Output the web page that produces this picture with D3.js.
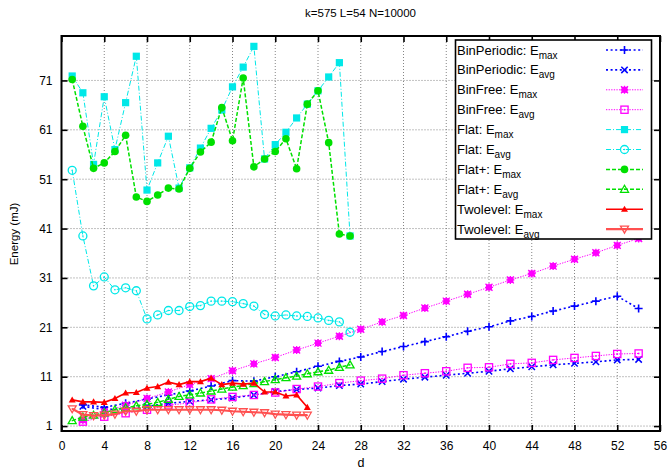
<!DOCTYPE html>
<html><head><meta charset="utf-8">
<script src="https://cdn.jsdelivr.net/npm/d3@7"></script>
<style>body{margin:0;background:#fff}svg{display:block}text{font-family:"Liberation Sans",Arial,sans-serif}</style>
</head><body><svg id="c" width="668" height="471"></svg>
<script>
const dBin = [2,4,6,8,10,12,14,16,18,20,22,24,26,28,30,32,34,36,38,40,42,44,46,48,50,52,54];
const dFlat = [1,2,3,4,5,6,7,8,9,10,11,12,13,14,15,16,17,18,19,20,21,22,23,24,25,26,27];
const dTwo = [1,2,3,4,5,6,7,8,9,10,11,12,13,14,15,16,17,18,19,20,21,22,23];
const binPeriodicMax = [5.3,4.8,5.6,6.5,7.3,8.1,9.1,10.2,10.1,11.0,12.0,13.1,14.1,15.0,16.1,17.1,18.1,19.1,20.2,21.1,22.3,23.2,24.3,25.3,26.3,27.3,24.8];
const binPeriodicAvg = [5.0,4.3,4.6,5.0,5.6,6.0,6.3,6.7,7.3,8.0,8.4,8.7,9.2,9.5,10.0,10.5,10.9,11.3,11.7,12.1,12.6,13.0,13.4,13.7,14.0,14.4,14.5];
const binFreeMax = [2.2,3.9,5.2,6.6,7.9,9.4,10.6,12.2,13.6,14.9,16.4,17.8,19.2,20.6,22.1,23.4,24.9,26.3,27.7,29.1,30.6,31.9,33.4,34.8,36.1,37.6,39.0];
const binFreeAvg = [1.9,2.9,3.6,4.3,5.2,5.7,6.4,6.9,7.3,7.8,8.5,9.0,9.7,10.2,10.6,11.3,11.7,12.1,12.8,12.9,13.6,13.8,14.4,14.8,15.2,15.6,15.7];
const flatMax = [71.9,68.5,54.0,67.7,57.0,66.5,75.9,48.8,54.3,59.7,49.2,53.3,57.3,61.3,65.0,69.7,73.7,77.9,55.1,58.0,60.5,63.4,66.2,68.9,71.7,74.6,39.5];
const flatAvg = [52.8,39.5,29.4,31.2,28.6,29.0,28.4,22.7,23.5,24.4,24.4,25.2,25.4,26.3,26.3,26.2,25.8,25.3,23.6,23.3,23.5,23.3,23.2,22.9,22.4,22.1,20.0];
const flatPlusMax = [71.2,61.7,53.2,54.3,56.6,59.9,47.4,46.5,47.8,49.2,49.0,53.2,56.5,58.5,65.5,58.8,71.5,53.5,55.1,56.6,59.2,53.1,66.2,68.9,58.4,39.9,39.5];
const flatPlusAvg = [2.1,2.8,3.2,3.7,4.3,4.7,5.1,5.4,5.8,6.4,7.0,7.3,7.7,8.1,8.5,8.9,9.2,9.6,10.0,10.4,10.8,11.1,11.6,12.0,12.3,12.9,13.4];
const twoMax = [6.3,5.9,5.9,5.8,6.6,7.7,7.8,8.7,9.0,9.9,9.4,10.0,10.0,10.7,9.4,9.7,9.5,9.7,7.9,7.9,7.1,7.3,4.8];
const twoAvg = [4.5,3.3,3.1,3.2,3.4,4.0,4.0,4.3,4.3,4.3,4.3,4.3,4.3,4.3,4.2,4.0,3.9,3.8,3.7,3.4,3.3,3.2,3.2];
const xTicks = [0,4,8,12,16,20,24,28,32,36,40,44,48,52,56];
const yTicks = [1,11,21,31,41,51,61,71];
const title = "k=575 L=54  N=10000";
const xLabel = "d";
const yLabel = "Energy (mJ)";

const series = [
  {name:"BinPeriodic: E", sub:"max", xs:dBin, ys:binPeriodicMax, color:"#0000ff", dash:"2,2.6", w:1.6, mk:"plus"},
  {name:"BinPeriodic: E", sub:"avg", xs:dBin, ys:binPeriodicAvg, color:"#0000ff", dash:"2,2.6", w:1.6, mk:"cross"},
  {name:"BinFree: E", sub:"max", xs:dBin, ys:binFreeMax, color:"#ff00ff", dash:"1.3,1.3", w:1, mk:"star"},
  {name:"BinFree: E", sub:"avg", xs:dBin, ys:binFreeAvg, color:"#ff00ff", dash:"1.3,1.3", w:1, mk:"osq"},
  {name:"Flat: E", sub:"max", xs:dFlat, ys:flatMax, color:"#00e8e8", dash:"5,2,1,2", w:1, mk:"fsq"},
  {name:"Flat: E", sub:"avg", xs:dFlat, ys:flatAvg, color:"#00e8e8", dash:"5,2,1,2", w:1, mk:"ocirc"},
  {name:"Flat+: E", sub:"max", xs:dFlat, ys:flatPlusMax, color:"#00e000", dash:"4,2", w:1.5, mk:"fcirc"},
  {name:"Flat+: E", sub:"avg", xs:dFlat, ys:flatPlusAvg, color:"#00e000", dash:"4,2", w:1.5, mk:"otri"},
  {name:"Twolevel: E", sub:"max", xs:dTwo, ys:twoMax, color:"#ff0000", dash:null, w:1.6, mk:"ftri"},
  {name:"Twolevel: E", sub:"avg", xs:dTwo, ys:twoAvg, color:"#ff5050", dash:null, w:2.2, mk:"odtri"}
];

const svg = d3.select("#c");
const L=61.5, R=660, T=36, B=431;
const x = d3.scaleLinear().domain([0,56]).range([L,R]);
const y = d3.scaleLinear().domain([0,80]).range([B,T]);

// grid
const g = svg.append("g");
xTicks.filter(t=>t>0&&t<56).forEach(t=>{
  g.append("line").attr("x1",x(t)).attr("x2",x(t)).attr("y1",T).attr("y2",B)
   .attr("stroke","#666").attr("stroke-width",0.8).attr("stroke-dasharray","1,2");
});
yTicks.forEach(t=>{
  g.append("line").attr("x1",L).attr("x2",R).attr("y1",y(t)).attr("y2",y(t))
   .attr("stroke","#666").attr("stroke-width",0.8).attr("stroke-dasharray","1,2");
});

// axes via d3
const xAxisB = d3.axisBottom(x).tickValues(xTicks).tickSizeInner(-6).tickSizeOuter(0).tickPadding(10);
const xAxisT = d3.axisTop(x).tickValues(xTicks).tickSizeInner(-6).tickSizeOuter(0).tickFormat("");
const yAxisL = d3.axisLeft(y).tickValues(yTicks).tickSizeInner(-6).tickSizeOuter(0).tickPadding(9);
const yAxisR = d3.axisRight(y).tickValues(yTicks).tickSizeInner(-6).tickSizeOuter(0).tickFormat("");
function styleAx(sel){
  sel.select(".domain").remove();
  sel.selectAll(".tick line").attr("stroke","#000").attr("stroke-width",1.6);
  sel.selectAll(".tick text").attr("font-size",12).attr("fill","#000").attr("font-family","Liberation Sans, Arial, sans-serif");
}
svg.append("g").attr("transform",`translate(0,${B})`).call(xAxisB).call(styleAx);
svg.append("g").attr("transform",`translate(0,${T})`).call(xAxisT).call(styleAx);
svg.append("g").attr("transform",`translate(${L},0)`).call(yAxisL).call(styleAx);
svg.append("g").attr("transform",`translate(${R},0)`).call(yAxisR).call(styleAx);

// markers
function marker(sel, type, cx, cy, color){
  const s = sel.append("g").attr("transform",`translate(${cx},${cy})`);
  const sw = 1.3;
  switch(type){
    case "plus":
      s.append("path").attr("d","M-4,0H4M0,-4V4").attr("stroke",color).attr("stroke-width",1.6).attr("fill","none"); break;
    case "cross":
      s.append("path").attr("d","M-3.2,-3.2L3.2,3.2M-3.2,3.2L3.2,-3.2").attr("stroke",color).attr("stroke-width",1.5).attr("fill","none"); break;
    case "star":
      s.append("rect").attr("x",-3).attr("y",-3).attr("width",6).attr("height",6).attr("fill",color);
      s.append("path").attr("d","M-4,0H4M0,-4V4M-3.5,-3.5L3.5,3.5M-3.5,3.5L3.5,-3.5").attr("stroke",color).attr("stroke-width",1.3).attr("fill","none"); break;
    case "osq":
      s.append("rect").attr("x",-3.6).attr("y",-3.6).attr("width",7.2).attr("height",7.2).attr("fill","none").attr("stroke",color).attr("stroke-width",sw);
      s.append("rect").attr("x",-0.8).attr("y",-0.8).attr("width",1.6).attr("height",1.6).attr("fill",color); break;
    case "fsq":
      s.append("rect").attr("x",-3.6).attr("y",-3.6).attr("width",7.2).attr("height",7.2).attr("fill",color); break;
    case "ocirc":
      s.append("circle").attr("r",4).attr("fill","none").attr("stroke",color).attr("stroke-width",sw);
      s.append("circle").attr("r",0.8).attr("fill",color); break;
    case "fcirc":
      s.append("circle").attr("r",3.8).attr("fill",color); break;
    case "otri":
      s.append("path").attr("d","M0,-4L4,3L-4,3Z").attr("fill","none").attr("stroke",color).attr("stroke-width",sw);
      s.append("circle").attr("r",0.7).attr("fill",color); break;
    case "ftri":
      s.append("path").attr("d","M0,-3.5L3.5,2.6L-3.5,2.6Z").attr("fill",color); break;
    case "odtri":
      s.append("path").attr("d","M0,4L4,-3L-4,-3Z").attr("fill","none").attr("stroke",color).attr("stroke-width",sw);
      s.append("circle").attr("r",0.7).attr("fill",color); break;
  }
}

const plot = svg.append("g");
const line = d3.line().x(d=>x(d[0])).y(d=>y(d[1]));
series.forEach(s=>{
  const pts = s.xs.map((d,i)=>[d,s.ys[i]]);
  plot.append("path").attr("d",line(pts)).attr("fill","none").attr("stroke",s.color)
    .attr("stroke-width",s.w).attr("stroke-dasharray",s.dash);
  pts.forEach(p=>marker(plot, s.mk, x(p[0]), y(p[1]), s.color));
});

// frame
svg.append("rect").attr("x",L).attr("y",T).attr("width",R-L).attr("height",B-T)
  .attr("fill","none").attr("stroke","#000").attr("stroke-width",2);

// legend
const lg = svg.append("g");
lg.append("rect").attr("x",455.5).attr("y",40).attr("width",196).attr("height",199)
  .attr("fill","#fff").attr("stroke","#000").attr("stroke-width",1.6);
series.forEach((s,i)=>{
  const cy = 50 + i*19.9;
  const t = lg.append("text").attr("x",457).attr("y",cy+4.5).attr("font-size",13).attr("fill","#000");
  t.append("tspan").text(s.name);
  t.append("tspan").attr("dy",4).attr("font-size",10).text(s.sub);
  lg.append("line").attr("x1",606).attr("x2",643).attr("y1",cy).attr("y2",cy)
    .attr("stroke",s.color).attr("stroke-width",s.w).attr("stroke-dasharray",s.dash);
  marker(lg, s.mk, 624.5, cy, s.color);
});

// titles
svg.append("text").attr("x",360.5).attr("y",17).attr("text-anchor","middle").attr("font-size",11.5).text(title);
svg.append("text").attr("x",361).attr("y",467).attr("text-anchor","middle").attr("font-size",12.5).text(xLabel);
svg.append("text").attr("transform","translate(18,234) rotate(-90)").attr("text-anchor","middle").attr("font-size",11.5).text(yLabel);
</script></body></html>
